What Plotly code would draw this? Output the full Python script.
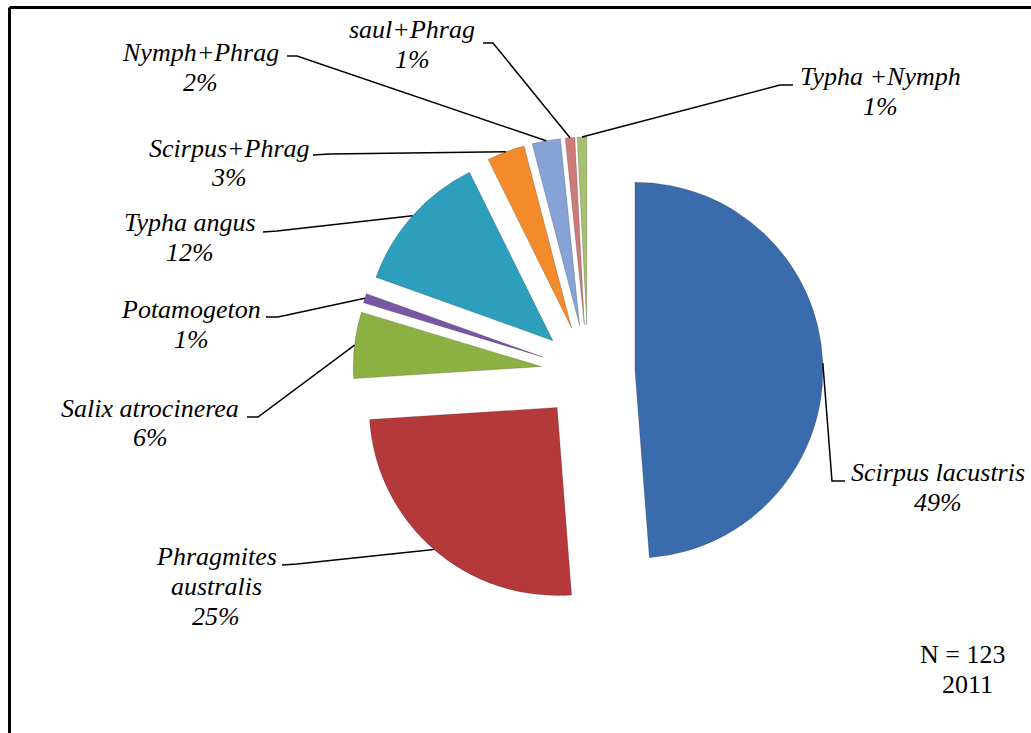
import numpy as np
import plotly.graph_objects as go

# Nest counts per vegetation type (N = 123, survey 2011)
species = ["Scirpus lacustris", "Phragmites australis", "Salix atrocinerea", "Potamogeton",
           "Typha angus", "Scirpus+Phrag", "Nymph+Phrag", "saul+Phrag", "Typha +Nymph"]
counts = [60, 31, 7, 1, 15, 4, 3, 1, 1]
colors = ["#3A6CAD", "#B5393A", "#8DB042", "#7856A3", "#2E9EBD",
          "#F38B2D", "#87A3D6", "#CD7B79", "#A6C070"]

# label lines (text split as printed) and their layout: centre x, first baseline y (px)
label_lines = [["Scirpus lacustris"], ["Phragmites", "australis"], ["Salix atrocinerea"],
               ["Potamogeton"], ["Typha angus"], ["Scirpus+Phrag"], ["Nymph+Phrag"],
               ["saul+Phrag"], ["Typha +Nymph"]]
label_pos = [(938, 481), (216, 565), (150, 417), (191, 318), (190, 232),
             (229, 157), (200, 61), (412, 39), (880, 85)]
# leader elbows: point near label, end of short horizontal tick
leader_elbow = [((832, 481), (845, 481)), ((297, 564), (282, 565)), ((258, 417), (247, 417)),
                ((278, 317), (266, 317)), ((277, 231), (263, 232)), ((330, 154), (313, 155)),
                ((297, 56), (287, 56)), ((493, 43), (483, 43)), ((780, 85), (793, 85))]

W, H = 1031, 733
CX, CY, R, PULL = 588, 372, 188, 0.25
FONT = "Liberation Serif"
LINE_GAP = 30

half = R * (1 + PULL)
fig = go.Figure(go.Pie(
    labels=species, values=counts, sort=False, direction="clockwise", rotation=0,
    pull=[PULL] * len(counts), textinfo="none", hoverinfo="label+percent",
    marker=dict(colors=colors, line=dict(color="rgba(0,0,0,0.18)", width=1)),
    domain=dict(x=[(CX - half) / W, (CX + half) / W],
                y=[1 - (CY + half) / H, 1 - (CY - half) / H]),
    showlegend=False,
))


def px(x, y):
    return x / W, 1 - y / H


total = sum(counts)
fracs = np.array(counts) / total
starts = np.concatenate([[0], np.cumsum(fracs)[:-1]])
shapes = []
annotations = []
for i, name in enumerate(species):
    theta = np.deg2rad((starts[i] + fracs[i] / 2) * 360)
    reach = R * (1 + PULL)
    ax_, ay_ = CX + reach * np.sin(theta), CY - reach * np.cos(theta)
    (ex, ey), (tx, ty) = leader_elbow[i]
    pts = [px(ax_, ay_), px(ex, ey), px(tx, ty)]
    path = "M {:.5f} {:.5f} L {:.5f} {:.5f} L {:.5f} {:.5f}".format(*[c for p in pts for c in p])
    shapes.append(dict(type="path", xref="paper", yref="paper", path=path,
                       line=dict(color="black", width=1.5)))
    pct = f"{round(fracs[i] * 100):.0f}%"
    lines = label_lines[i] + [pct]
    cx, b0 = label_pos[i]
    for k, txt in enumerate(lines):
        x, y = px(cx, b0 + k * LINE_GAP - 9)
        annotations.append(dict(x=x, y=y, xref="paper", yref="paper", text=txt, showarrow=False,
                                xanchor="center", yanchor="middle",
                                font=dict(family=FONT, size=26, color="black", style="italic")))

for txt, (cx, by) in [("N = 123", (962, 663)), ("2011", (967, 693))]:
    x, y = px(cx, by - 9)
    annotations.append(dict(x=x, y=y, xref="paper", yref="paper", text=txt, showarrow=False,
                            xanchor="center", yanchor="middle",
                            font=dict(family=FONT, size=26, color="black")))

# chart frame (top and left edges visible)
shapes.append(dict(type="line", xref="paper", yref="paper", x0=9.5 / W, y0=1 - 7.5 / H,
                   x1=1.02, y1=1 - 7.5 / H, line=dict(color="black", width=3)))
shapes.append(dict(type="line", xref="paper", yref="paper", x0=9.5 / W, y0=1 - 7.5 / H,
                   x1=9.5 / W, y1=-0.02, line=dict(color="black", width=3)))

fig.update_layout(width=W, height=H, margin=dict(l=0, r=0, t=0, b=0),
                  paper_bgcolor="white", plot_bgcolor="white",
                  shapes=shapes, annotations=annotations)
fig.write_html("out.html")
